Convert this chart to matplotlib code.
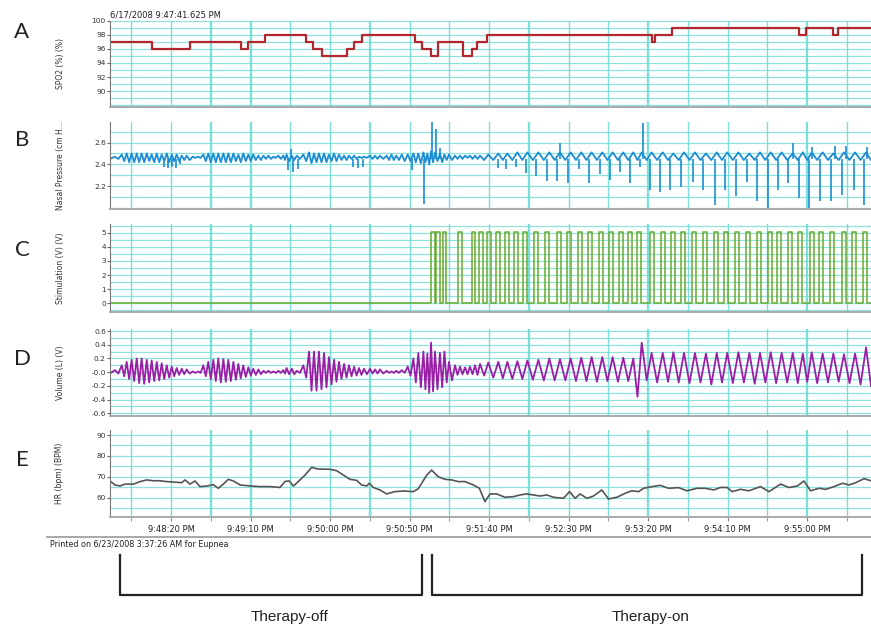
import numpy as np
import matplotlib
matplotlib.use("Agg")
import matplotlib.pyplot as plt
from matplotlib.lines import Line2D

# time in seconds after 6/17/2008 9:47:41.625 PM
t_end = 478.6
tick_sec = [38.375, 88.375, 138.375, 188.375, 238.375, 288.375, 338.375, 388.375, 438.375]
tick_labels = ["9:48:20 PM", "9:49:10 PM", "9:50:00 PM", "9:50:50 PM", "9:51:40 PM",
               "9:52:30 PM", "9:53:20 PM", "9:54:10 PM", "9:55:00 PM"]

# A - SpO2 steps
spo2_t = [0, 26.4, 50.3, 82.4, 86.8, 97.5, 123.3, 127.7, 133.3, 149.0, 153.5, 158.5,
          191.8, 196.2, 201.9, 206.1, 222.2, 227.5, 230.6, 236.9, 341.0, 342.8, 353.3,
          433.5, 437.7, 454.5, 458.0, t_end]
spo2_v = [97, 96, 97, 96, 97, 98, 97, 96, 95, 96, 97, 98,
          97, 96, 95, 97, 95, 96, 97, 98, 97, 98, 99,
          98, 99, 98, 99, 99]

# D - breath peaks (also used for nasal pressure oscillation)
vol_t = [
    3.1,
    7.4, 10.5, 13.6, 16.8, 19.9, 23.1, 26.2, 29.4, 32.5, 35.7, 38.8, 41.9, 45.1, 48.2,
    52.0, 55.3,
    58.7, 61.8, 65.0, 68.1, 71.3, 74.4, 77.6, 80.7, 83.8, 87.0, 90.1, 93.3,
    96.5, 99.6, 102.8, 105.9, 109.0, 111.1, 114.3, 117.4,
    121.6, 125.2, 128.3, 131.4, 134.6, 137.7, 140.9, 144.0, 147.2, 150.3, 153.5, 156.6, 159.7,
    163.5, 166.7, 169.8, 174.0, 177.0, 180.0, 183.5,
    187.2, 190.8, 193.9, 197.1, 199.6, 201.9, 204.4, 207.5, 210.3, 213.2,
    217.0, 220.1, 223.3, 226.4, 229.6, 232.7,
    237.9, 244.2, 249.9, 256.2, 262.5, 269.4, 276.3, 283.0, 289.7, 296.4, 302.9, 309.6,
    316.1, 322.8, 329.1,
    334.4, 340.6, 347.6, 354.3, 361.0, 367.9, 374.8, 381.6, 388.2, 395.2, 402.1, 408.8,
    415.5, 422.4, 429.4, 435.7, 441.3, 448.2, 454.9, 461.6, 468.6, 475.5,
]
vol_hi = [
    0.03,
    0.10, 0.15, 0.18, 0.20, 0.20, 0.18, 0.17, 0.15, 0.13, 0.10, 0.08, 0.06, 0.05, 0.04,
    0.01, 0.01,
    0.10, 0.15, 0.18, 0.20, 0.19, 0.18, 0.15, 0.12, 0.10, 0.07, 0.05, 0.04,
    0.02, 0.02, 0.01, 0.02, 0.03, 0.06, 0.05, 0.02,
    0.10, 0.30, 0.30, 0.30, 0.28, 0.22, 0.18, 0.15, 0.12, 0.10, 0.08, 0.06, 0.05,
    0.05, 0.04, 0.04, 0.02, 0.01, 0.02, 0.03,
    0.08, 0.20, 0.28, 0.30, 0.27, 0.43, 0.30, 0.28, 0.30, 0.15,
    0.10, 0.08, 0.07, 0.08, 0.10, 0.12,
    0.14, 0.15, 0.15, 0.16, 0.17, 0.18, 0.20, 0.19, 0.20, 0.21, 0.22, 0.22, 0.22, 0.21, 0.20,
    0.43, 0.28, 0.28, 0.29, 0.28, 0.28, 0.27, 0.28, 0.28, 0.29, 0.28, 0.28, 0.29, 0.28,
    0.28, 0.27, 0.29, 0.27, 0.27, 0.26, 0.27, 0.36,
]
vol_lo = [
    -0.02,
    -0.06, -0.10, -0.13, -0.16, -0.17, -0.15, -0.13, -0.12, -0.10, -0.08, -0.06, -0.04, -0.03, -0.02,
    -0.01, -0.01,
    -0.06, -0.10, -0.13, -0.15, -0.14, -0.13, -0.11, -0.09, -0.07, -0.05, -0.04, -0.03,
    -0.01, -0.01, -0.01, -0.01, -0.02, -0.03, -0.03, -0.01,
    -0.08, -0.27, -0.27, -0.25, -0.22, -0.18, -0.14, -0.10, -0.08, -0.06, -0.05, -0.04, -0.03,
    -0.02, -0.02, -0.02, -0.01, -0.01, -0.01, -0.01,
    -0.05, -0.15, -0.22, -0.25, -0.30, -0.28, -0.25, -0.22, -0.15, -0.12,
    -0.04, -0.03, -0.03, -0.03, -0.04, -0.05,
    -0.08, -0.09, -0.10, -0.10, -0.11, -0.12, -0.12, -0.12, -0.13, -0.13, -0.14, -0.13,
    -0.14, -0.13, -0.36,
    -0.12, -0.15, -0.14, -0.15, -0.16, -0.15, -0.18, -0.15, -0.16, -0.15, -0.17, -0.15,
    -0.16, -0.15, -0.16, -0.14, -0.16, -0.15, -0.14, -0.16, -0.18, -0.20,
]

# B - nasal pressure oscillation (per breath) and spikes
b_hi = [
    2.47,
    2.49, 2.50, 2.50, 2.50, 2.50, 2.50, 2.49, 2.50, 2.49, 2.50, 2.49, 2.49, 2.48, 2.48,
    2.47, 2.47,
    2.49, 2.50, 2.50, 2.50, 2.50, 2.50, 2.50, 2.49, 2.50, 2.49, 2.49, 2.48,
    2.48, 2.48, 2.47, 2.48, 2.48, 2.49, 2.48, 2.48,
    2.49, 2.51, 2.50, 2.50, 2.50, 2.49, 2.50, 2.49, 2.48, 2.48, 2.48, 2.47, 2.47,
    2.48, 2.48, 2.48, 2.48, 2.49, 2.48, 2.49,
    2.49, 2.50, 2.50, 2.51, 2.50, 2.52, 2.51, 2.50, 2.49, 2.49,
    2.48, 2.48, 2.48, 2.48, 2.48, 2.48,
    2.49, 2.50, 2.50, 2.51, 2.51, 2.51, 2.51, 2.51, 2.51, 2.51, 2.51, 2.51, 2.51, 2.51, 2.51,
    2.51, 2.51, 2.51, 2.50, 2.51, 2.51, 2.50, 2.51, 2.51, 2.51, 2.50, 2.51, 2.51, 2.51,
    2.50, 2.51, 2.51, 2.51, 2.50, 2.51, 2.51, 2.51,
]
b_lo = [
    2.45,
    2.43, 2.42, 2.42, 2.42, 2.42, 2.43, 2.42, 2.42, 2.43, 2.42, 2.43, 2.43, 2.44, 2.44,
    2.46, 2.46,
    2.43, 2.42, 2.42, 2.42, 2.42, 2.42, 2.43, 2.42, 2.43, 2.43, 2.44, 2.44,
    2.45, 2.45, 2.46, 2.45, 2.44, 2.43, 2.44, 2.45,
    2.43, 2.41, 2.42, 2.42, 2.42, 2.43, 2.43, 2.44, 2.44, 2.45, 2.45, 2.46, 2.46,
    2.45, 2.45, 2.45, 2.44, 2.44, 2.44, 2.43,
    2.43, 2.42, 2.41, 2.42, 2.40, 2.42, 2.43, 2.42, 2.44, 2.44,
    2.45, 2.45, 2.46, 2.45, 2.45, 2.44,
    2.44, 2.44, 2.44, 2.44, 2.44, 2.44, 2.44, 2.44, 2.44, 2.44, 2.44, 2.44, 2.44, 2.44, 2.44,
    2.44, 2.44, 2.44, 2.44, 2.44, 2.44, 2.44, 2.44, 2.44, 2.44, 2.44, 2.44, 2.44, 2.44,
    2.44, 2.44, 2.44, 2.44, 2.44, 2.44, 2.44, 2.44,
]
b_base = 2.45
b_spike_t = [34.0, 36.5, 39.0, 41.5, 44.0, 112.0, 114.0, 115.0, 118.0, 153.0, 156.0, 159.0,
             189.7, 197.5, 202.3, 205.0, 207.5,
             243.8, 249.2, 255.1, 261.6, 267.9, 274.6, 281.3, 288.2, 294.9, 301.5, 308.2,
             314.5, 320.8, 327.0, 333.4, 339.6, 345.9, 352.2, 359.1, 366.5, 373.2, 380.3,
             386.8, 393.7, 400.4, 407.1, 414.1, 420.4, 426.7, 433.4, 439.7, 446.6, 453.3,
             460.3, 467.6, 473.9,
             283.0, 335.4, 429.4, 441.3, 455.9, 462.8, 475.8]
b_spike_v = [2.38, 2.37, 2.38, 2.37, 2.40, 2.35, 2.54, 2.33, 2.36, 2.38, 2.37, 2.38,
             2.35, 2.04, 2.79, 2.72, 2.55,
             2.37, 2.36, 2.38, 2.32, 2.29, 2.25, 2.25, 2.23, 2.36, 2.23, 2.31,
             2.26, 2.33, 2.23, 2.38, 2.17, 2.15, 2.17, 2.19, 2.24, 2.17, 2.03,
             2.17, 2.11, 2.24, 2.07, 2.00, 2.17, 2.23, 2.09, 2.00, 2.07, 2.07,
             2.12, 2.17, 2.03,
             2.60, 2.78, 2.60, 2.56, 2.57, 2.57, 2.56]

# C - stimulation pulses
stim_level = 5.05
stim_on = [201.9, 205.0, 209.2, 218.7, 227.5, 231.9, 236.9, 242.6, 248.4, 254.3, 259.9,
           266.9, 273.6, 280.9, 287.2, 294.1, 300.8, 307.5, 313.8, 320.3, 326.0, 331.7,
           339.6, 346.3, 352.6, 358.9, 365.8, 372.8, 379.9, 386.4, 393.1, 400.0, 406.7,
           413.6, 419.7, 426.6, 432.9, 440.3, 445.9, 452.8, 460.2, 466.9, 473.8]
stim_off = [204.2, 207.3, 211.6, 221.2, 229.8, 234.3, 239.4, 245.1, 250.9, 256.8, 262.4,
            269.4, 276.1, 283.4, 289.7, 296.6, 303.3, 310.0, 316.3, 322.8, 328.5, 334.2,
            342.1, 348.8, 355.1, 361.4, 368.3, 375.3, 382.4, 388.9, 395.6, 402.5, 409.2,
            416.1, 422.2, 429.1, 435.4, 442.8, 448.4, 455.3, 462.7, 469.4, 476.3]

# E - heart rate
hr_t = [0, 3.1, 6.3, 9.4, 14.7, 18.9, 23.1, 27.3, 31.4, 35.6, 39.8, 45.1, 47.2, 50.3, 53.5,
        56.6, 60.8, 65.0, 68.1, 71.3, 74.4, 77.6, 81.8, 88.1, 94.3, 100.6, 106.9, 110.1,
        112.8, 115.3, 118.4, 122.6, 126.8, 131.0, 138.4, 142.6, 146.8, 150.9, 155.1, 158.3,
        161.4, 163.1, 165.6, 169.8, 174.0, 179.2, 184.5, 190.8, 193.9, 199.2, 202.3, 206.5,
        210.7, 214.9, 219.1, 223.3, 228.5, 232.3, 235.8, 239.0, 243.2, 248.4, 253.7, 257.9,
        262.1, 266.3, 270.5, 274.7, 278.9, 285.2, 289.0, 292.5, 295.7, 299.9, 304.1, 309.3,
        313.5, 318.8, 324.0, 328.2, 332.4, 335.6, 340.8, 346.1, 351.3, 357.6, 362.9, 369.2,
        374.4, 379.7, 383.9, 388.1, 391.3, 396.5, 401.8, 409.1, 414.4, 421.7, 427.0, 432.3,
        436.4, 440.6, 445.9, 450.1, 455.3, 460.6, 464.8, 469.0, 474.3, 478.5]
hr_v = [68.0, 66.1, 65.6, 66.5, 66.5, 67.7, 68.5, 68.1, 68.1, 67.7, 67.5, 67.2, 68.5, 66.5, 68.0,
        65.3, 65.6, 66.2, 64.5, 66.5, 68.8, 68.0, 66.1, 65.6, 65.3, 65.3, 64.9, 67.8,
        68.0, 65.6, 67.7, 70.8, 74.5, 73.7, 73.6, 72.9, 70.8, 68.8, 68.3, 66.1,
        65.6, 66.9, 64.9, 63.7, 61.8, 62.9, 63.2, 62.9, 64.3, 70.8, 73.2, 70.0,
        68.8, 68.5, 67.7, 67.7, 66.1, 64.5, 58.1, 61.8, 61.8, 60.2, 60.5, 61.3,
        61.8, 61.3, 60.8, 61.3, 60.2, 59.7, 62.9, 59.7, 61.8, 59.7, 60.8, 63.7,
        59.4, 60.2, 62.1, 63.3, 62.9, 64.5, 65.3, 65.9, 64.5, 64.8, 63.3, 64.5,
        64.5, 63.7, 64.9, 64.9, 62.9, 64.0, 63.3, 65.3, 62.9, 66.5, 64.9, 65.6,
        68.0, 63.3, 64.5, 64.0, 65.3, 66.9, 66.1, 67.2, 69.1, 68.1]

W, H = 871, 627
fig = plt.figure(figsize=(W / 100, H / 100), dpi=100)
plt.rcParams['font.family'] = 'DejaVu Sans'

grid_c = '#6fdcd6'
small = 5.3
bold_grid = [63.375, 88.375, 163.375, 263.375, 338.375, 438.375]


def rect(top, bottom):
    return [110 / W, 1 - bottom / H, (W - 110) / W, (bottom - top) / H]


def setup(ax, ylim, hgrid, yticks, ylabels, ytitle):
    ax.set_xlim(0, t_end)
    ax.set_ylim(*ylim)
    for y in hgrid:
        ax.axhline(y, color=grid_c, lw=0.9, alpha=0.8, zorder=0)
    for x in np.arange(13.375, t_end, 25):
        ax.axvline(x, color=grid_c, lw=1.7 if x in bold_grid else 1.0, alpha=0.9, zorder=0)
    ax.set_yticks(yticks)
    ax.set_yticklabels(ylabels, fontsize=small, color='#333')
    ax.tick_params(axis='y', length=2, pad=1, color='#666')
    ax.set_xticks([])
    for s in ['top', 'right']:
        ax.spines[s].set_visible(False)
    ax.spines['left'].set_color('#777')
    ax.spines['bottom'].set_color('#aaa')
    ax.spines['bottom'].set_linewidth(1.4)
    y0 = ax.get_position().y0 + ax.get_position().height / 2
    fig.text(60 / W, y0, ytitle, rotation=90, fontsize=5.5, ha='center', va='center', color='#333')


def zigzag(t, hi, lo):
    t = np.asarray(t)
    mids = np.append((t[:-1] + t[1:]) / 2, t_end)
    xs = np.column_stack([t, mids]).ravel()
    ys = np.column_stack([hi, lo]).ravel()
    return np.concatenate([[0], xs]), np.concatenate([[lo[0]], ys])


# A
axA = fig.add_axes(rect(20.7, 106.7))
setup(axA, (87.8, 100), np.arange(88, 100.5, 1), [90, 92, 94, 96, 98, 100],
      ['90', '92', '94', '96', '98', '100'], 'SPO2 (%) (%)')
axA.step(spo2_t, spo2_v, where='post', color='#b3262e', lw=1.6)

# B
axB = fig.add_axes(rect(121.7, 209.3))
setup(axB, (1.99, 2.79), np.arange(2.0, 2.75, 0.1), [2.2, 2.4, 2.6],
      ['2.2', '2.4', '2.6'], 'Nasal Pressure (cm H...')
bx, by = zigzag(vol_t, b_hi, b_lo)
axB.plot(bx, by, color='#1b8dd4', lw=1.3)
axB.vlines(b_spike_t, b_base, b_spike_v, color='#1b8dd4', lw=1.2)

# C
axC = fig.add_axes(rect(224.3, 311.7))
setup(axC, (-0.6, 5.6), np.arange(-0.5, 5.6, 0.5), [0, 1, 2, 3, 4, 5],
      ['0', '1', '2', '3', '4', '5'], 'Stimulation (V) (V)')
sx = [0]
sy = [0]
for a, b in zip(stim_on, stim_off):
    sx += [a, a, b, b]
    sy += [0, stim_level, stim_level, 0]
sx.append(t_end)
sy.append(0)
axC.plot(sx, sy, color='#6aab2c', lw=1.1)

# D
axD = fig.add_axes(rect(329.3, 415.7))
setup(axD, (-0.635, 0.625), np.arange(-0.6, 0.65, 0.1), [0.6, 0.4, 0.2, 0, -0.2, -0.4, -0.6],
      ['0.6', '0.4', '0.2', '-0.0', '-0.2', '-0.4', '-0.6'], 'Volume (L) (V)')
dx, dy = zigzag(vol_t, vol_hi, vol_lo)
axD.plot(dx, dy, color='#9a1fa6', lw=1.3)

# E
axE = fig.add_axes(rect(430, 516.7))
setup(axE, (50.9, 92.4), np.arange(55, 91, 5), [60, 70, 80, 90],
      ['60', '70', '80', '90'], 'HR (bpm) (BPM)')
axE.plot(hr_t, hr_v, color='#555555', lw=1.2)
axE.set_xticks(tick_sec)
axE.set_xticklabels(tick_labels, fontsize=6, color='#222')
axE.set_xticks(np.arange(13.375, t_end, 50), minor=True)
axE.tick_params(axis='x', which='both', length=3, pad=3, color='#888')

# texts and decorations
fig.text(110 / W, 1 - 14.7 / H, '6/17/2008 9:47:41.625 PM', fontsize=6, ha='left', va='center', color='#222')
for letter, yc in zip('ABCDE', [32.5, 140, 250, 359, 460]):
    fig.text(22 / W, 1 - yc / H, letter, fontsize=16, ha='center', va='center', color='#222', family='Lato')
fig.add_artist(Line2D([47 / W, 1], [1 - 537 / H] * 2, color='#999', lw=1.2))
fig.text(50 / W, 1 - 544.5 / H, 'Printed on 6/23/2008 3:37:26 AM for Eupnea', fontsize=5.8,
         ha='left', va='center', color='#222')

for xa, xb in [(120, 422), (432, 862)]:
    fig.add_artist(Line2D([xa / W, xa / W, xb / W, xb / W],
                          [1 - 555 / H, 1 - 595 / H, 1 - 595 / H, 1 - 555 / H],
                          color='#222', lw=1.6))
fig.text(290 / W, 1 - 617 / H, 'Therapy-off', fontsize=11, ha='center', va='center',
         color='#222', family='Liberation Sans')
fig.text(651 / W, 1 - 617 / H, 'Therapy-on', fontsize=11, ha='center', va='center',
         color='#222', family='Liberation Sans')

fig.savefig('out.png', dpi=100)
